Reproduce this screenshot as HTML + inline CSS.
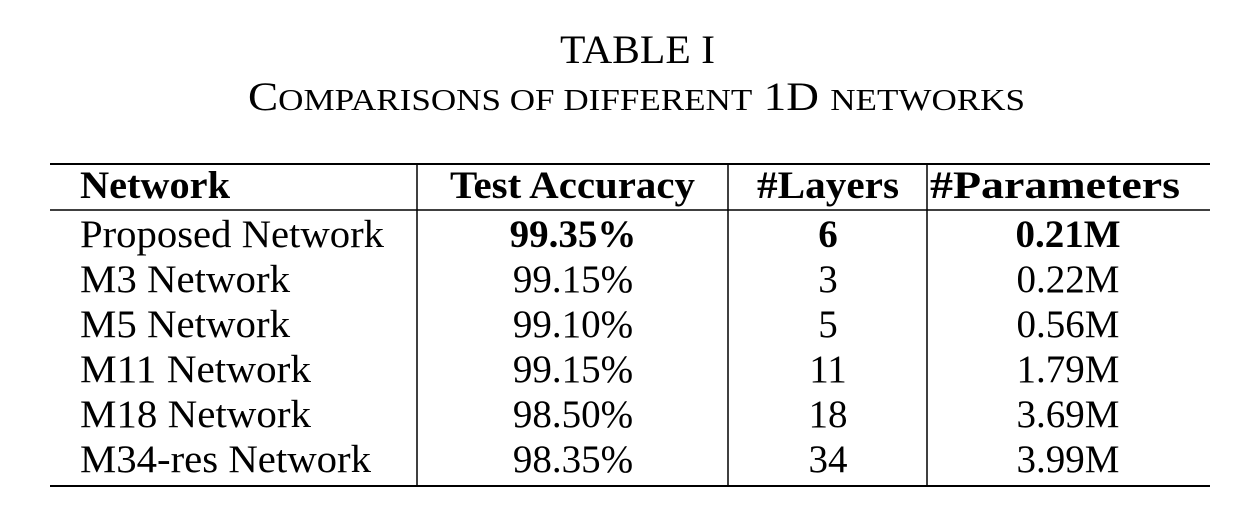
<!DOCTYPE html>
<html><head><meta charset="utf-8"><style>
html,body{margin:0;padding:0;background:#fff;}
svg{display:block;font-family:"Liberation Serif",serif;}
</style></head><body>
<svg width="1236" height="520" viewBox="0 0 1236 520">
<text x="560" y="63" font-size="40" textLength="155" lengthAdjust="spacingAndGlyphs">TABLE I</text>
<text x="248" y="110" font-size="40" textLength="777" lengthAdjust="spacingAndGlyphs">C<tspan font-size="31">OMPARISONS OF DIFFERENT</tspan> 1D <tspan font-size="31">NETWORKS</tspan></text>
<line x1="50" y1="164" x2="1210" y2="164" stroke="#000" stroke-width="2"/>
<line x1="50" y1="210" x2="1210" y2="210" stroke="#000" stroke-width="1.5"/>
<line x1="50" y1="486" x2="1210" y2="486" stroke="#000" stroke-width="2"/>
<line x1="417" y1="164" x2="417" y2="486" stroke="#000" stroke-width="1.5"/>
<line x1="728" y1="164" x2="728" y2="486" stroke="#000" stroke-width="1.5"/>
<line x1="927" y1="164" x2="927" y2="486" stroke="#000" stroke-width="1.5"/>
<g font-size="39" font-weight="bold">
<text x="80" y="198" textLength="150" lengthAdjust="spacingAndGlyphs">Network</text>
<text x="450" y="198" textLength="245" lengthAdjust="spacingAndGlyphs">Test Accuracy</text>
<text x="757" y="198" textLength="142" lengthAdjust="spacingAndGlyphs">#Layers</text>
<text x="930" y="198" textLength="250" lengthAdjust="spacingAndGlyphs">#Parameters</text>
</g>
<g id="body" font-size="39"></g>
</svg>
<script>
const names=["Proposed Network","M3 Network","M5 Network","M11 Network","M18 Network","M34-res Network"];
const accuracy=["99.35%","99.15%","99.10%","99.15%","98.50%","98.35%"];
const layers=["6","3","5","11","18","34"];
const params=["0.21M","0.22M","0.56M","1.79M","3.69M","3.99M"];
const nameWidthPx=[304,210,210,231,231,291];
const g=document.getElementById('body');
const NS="http://www.w3.org/2000/svg";
function t(x,y,s,anchor,bold,name,len){
  const e=document.createElementNS(NS,'text');
  e.setAttribute('x',x);e.setAttribute('y',y);
  if(anchor)e.setAttribute('text-anchor',anchor);
  if(bold)e.setAttribute('font-weight','bold');
  if(len){e.setAttribute('textLength',len);e.setAttribute('lengthAdjust','spacingAndGlyphs');}
  e.textContent=s;
  
  
  g.appendChild(e);
}
names.forEach((n,i)=>{
  const y=247+i*45;const b=i===0;
  t(80,y,n,null,false,'network-name',nameWidthPx[i]);
  t(573,y,accuracy[i],'middle',b,'test-accuracy-cell');
  t(828,y,layers[i],'middle',b,'layers-cell');
  t(1068,y,params[i],'middle',b,'parameters-cell');
});
</script>
</body></html>
